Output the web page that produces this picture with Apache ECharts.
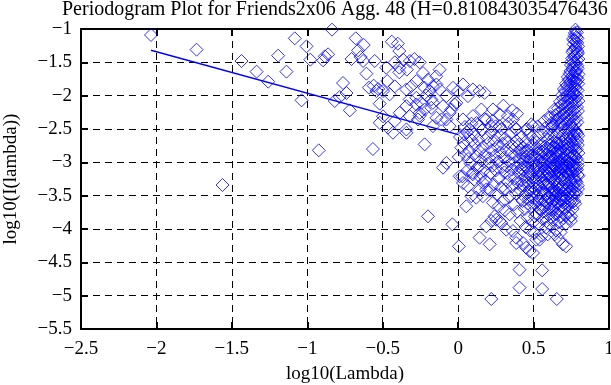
<!DOCTYPE html>
<html>
<head>
<meta charset="utf-8">
<script src="https://cdn.jsdelivr.net/npm/echarts@6/dist/echarts.min.js"></script>
<style>
html,body{margin:0;padding:0;background:#fff;}
#c{width:611px;height:385px;}
</style>
</head>
<body>
<div id="c"></div>
<script>
// ---- data (log10 frequency, log10 periodogram) ----
const titleText = "Periodogram Plot for Friends2x06 Agg. 48 (H=0.810843035476436";
const xName = "log10(Lambda)";
const yName = "log10(I(lambda))";

const lowBand = [
  [-2.036,-1.09],[-1.734,-1.31],[-1.562,-3.34],[-1.436,-1.48],[-1.336,-1.64],[-1.259,-1.79],
  [-1.193,-1.40],[-1.138,-1.64],[-1.083,-1.14],[-1.038,-2.07],[-1.005,-1.26],[-0.980,-1.46],
  [-0.924,-2.82],[-0.895,-1.47],[-0.884,-1.41],[-0.862,-1.38],[-0.836,-1.01],[-0.818,-2.08],
  [-0.785,-2.02],[-0.763,-1.81],[-0.740,-1.96],[-0.718,-2.22],[-0.707,-1.45],[-0.679,-1.14],
  [-0.663,-1.32],[-0.646,-1.42],[-0.630,-1.48],[-0.626,-1.24],[-0.608,-1.67],[-0.591,-1.88],
  [-0.565,-2.80],[-0.560,-1.85],[-0.553,-1.48],[-0.542,-1.93],[-0.530,-1.90],[-0.520,-2.12],
  [-0.498,-1.93],[-0.498,-2.31],[-0.476,-1.58]
];

const midBand = [
  [-0.44,-1.19],[-0.40,-1.22],[-0.39,-1.33],[-0.365,-1.46],[-0.42,-1.50],[-0.39,-1.58],
  [-0.32,-1.48],[-0.29,-1.45],[-0.255,-1.50],[-0.39,-1.65],[-0.34,-1.61],[-0.123,-1.61],
  [-0.145,-1.71],[-0.233,-1.66],[-0.20,-1.76],[-0.454,-1.98],[-0.47,-1.78],[-0.42,-1.86],
  [-0.343,-1.907],[-0.31,-1.857],[-0.321,-2.057],[-0.277,-2.032],[-0.222,-1.882],[-0.189,-1.932],
  [-0.178,-2.057],[-0.144,-1.832],[-0.123,-1.907],[-0.078,-2.007],[-0.034,-1.882],[-0.001,-1.932],
  [0.032,-1.832],[0.065,-2.007],[0.098,-1.907],[0.142,-1.932],[0.175,-1.957],[-0.012,-2.107],
  [-0.045,-2.207],[-0.10,-2.157],[-0.178,-2.182],[-0.255,-2.257],[-0.321,-2.307],[-0.387,-2.257],
  [-0.42,-2.382],[-0.277,-1.782],[-0.167,-1.857],[-0.211,-1.997],[-0.244,-2.107],
  [-0.52,-2.407],[-0.465,-2.48],[-0.432,-2.556],[-0.343,-2.507],[-0.266,-2.357],[-0.167,-2.457],
  [-0.111,-2.357],[-0.056,-2.457],[0.032,-2.357],[0.098,-2.307],[0.154,-2.207],[0.231,-2.207],
  [0.275,-2.282],[0.33,-2.307],[0.187,-2.357],[0.363,-2.357],[0.275,-2.457],[0.22,-2.457],
  [0.142,-2.457],[0.076,-2.507],[0.043,-2.582],[0.385,-2.507],[0.451,-2.507],[0.496,-2.457],
  [-0.343,-2.157],[-0.277,-2.132],[-0.222,-2.207],[-0.167,-2.107],[-0.056,-2.257],[-0.023,-2.132],
  [-0.255,-2.30],[-0.144,-2.332],[-0.078,-2.357],[-0.343,-2.557],[-0.222,-2.73],
  [0.39,-2.27],[0.30,-2.15],[0.36,-2.22]
];

const cluster = [
  [0.012,-2.62],[0.021,-2.78],[0.035,-2.71],[0.048,-2.88],[0.057,-2.55],[0.066,-2.95],[0.074,-2.83],
  [0.083,-3.02],[0.091,-2.67],[0.097,-3.18],[0.004,-2.92],[0.028,-3.21],[0.062,-3.12],[0.045,-2.47],[0.088,-2.42],
  [0.104,-2.58],[0.111,-2.74],[0.118,-2.91],[0.126,-3.08],[0.133,-2.66],[0.139,-2.83],[0.146,-3.22],
  [0.152,-2.97],[0.158,-2.52],[0.165,-2.77],[0.171,-3.12],[0.178,-2.89],[0.184,-3.28],[0.19,-2.63],
  [0.196,-3.02],[0.107,-3.26],[0.143,-3.41],[0.175,-2.35],[0.121,-2.41],
  [0.203,-2.71],[0.208,-2.94],[0.214,-3.16],[0.219,-2.55],[0.224,-2.82],[0.229,-3.05],[0.235,-3.33],
  [0.24,-2.67],[0.245,-2.90],[0.25,-3.12],[0.255,-3.48],[0.26,-2.76],[0.265,-2.99],[0.27,-3.24],
  [0.275,-2.60],[0.28,-2.85],[0.285,-3.38],[0.29,-3.07],[0.295,-2.72],[0.299,-3.58],[0.212,-3.42],
  [0.248,-2.46],[0.268,-3.66],[0.227,-2.38],[0.287,-2.50],
  [0.303,-2.93],[0.307,-3.15],[0.311,-2.64],[0.315,-3.40],[0.319,-2.81],[0.323,-3.06],[0.327,-3.29],
  [0.331,-2.70],[0.335,-2.98],[0.339,-3.52],[0.343,-3.20],[0.347,-2.87],[0.351,-2.56],[0.355,-3.11],
  [0.359,-3.36],[0.363,-2.76],[0.367,-3.02],[0.371,-3.63],[0.375,-3.24],[0.379,-2.91],[0.383,-3.47],
  [0.387,-2.68],[0.391,-3.08],[0.395,-3.31],[0.399,-2.84],[0.309,-3.72],[0.341,-3.78],[0.373,-2.47],
  [0.392,-3.74],[0.333,-2.42],
  [0.403,-3.16],[0.406,-2.73],[0.409,-2.95],[0.412,-3.42],[0.415,-3.03],[0.418,-2.62],[0.421,-3.27],
  [0.424,-2.86],[0.427,-3.58],[0.43,-3.12],[0.433,-2.78],[0.436,-3.35],[0.439,-2.99],[0.442,-3.70],
  [0.445,-3.21],[0.448,-2.69],[0.451,-3.47],[0.454,-2.91],[0.457,-3.08],[0.46,-3.83],[0.463,-2.82],
  [0.466,-3.31],[0.469,-3.55],[0.472,-2.58],[0.475,-3.14],[0.478,-2.96],[0.481,-3.39],[0.484,-3.66],
  [0.487,-2.75],[0.49,-3.23],[0.493,-3.02],[0.496,-3.90],[0.499,-2.88],[0.414,-3.88],[0.447,-3.97],
  [0.476,-4.02],[0.458,-2.50],[0.485,-2.43],
  [0.502,-3.44],[0.505,-2.66],[0.507,-3.11],[0.51,-3.62],[0.512,-2.93],[0.515,-3.27],[0.517,-2.79],
  [0.52,-3.78],[0.522,-3.05],[0.525,-3.50],[0.527,-2.87],[0.53,-3.18],[0.532,-2.60],[0.535,-3.36],
  [0.537,-3.93],[0.54,-2.99],[0.542,-3.71],[0.545,-3.22],[0.547,-2.72],[0.55,-3.56],[0.552,-3.09],
  [0.555,-2.84],[0.557,-3.42],[0.56,-3.85],[0.562,-3.14],[0.565,-2.54],[0.567,-3.31],[0.57,-2.96],
  [0.572,-3.67],[0.575,-3.03],[0.577,-2.76],[0.58,-3.48],[0.582,-3.98],[0.585,-3.20],[0.587,-2.89],
  [0.59,-3.60],[0.592,-2.66],[0.595,-3.35],[0.597,-3.08],[0.599,-3.79],[0.508,-4.06],[0.553,-4.10],
  [0.528,-2.46],[0.571,-2.38],
  [0.602,-2.58],[0.604,-3.17],[0.606,-3.52],[0.608,-2.82],[0.61,-3.94],[0.612,-3.01],[0.614,-3.38],
  [0.616,-2.69],[0.618,-3.71],[0.62,-3.24],[0.622,-2.93],[0.624,-3.58],[0.626,-2.47],[0.628,-3.10],
  [0.63,-3.86],[0.632,-2.77],[0.634,-3.44],[0.636,-3.29],[0.638,-2.62],[0.64,-3.66],[0.642,-3.05],
  [0.644,-2.86],[0.646,-3.50],[0.648,-4.02],[0.65,-3.16],[0.652,-2.71],[0.654,-3.77],[0.656,-2.98],
  [0.658,-3.34],[0.66,-2.55],[0.662,-3.62],[0.664,-3.12],[0.666,-2.90],[0.668,-3.90],[0.67,-3.41],
  [0.672,-2.66],[0.674,-3.23],[0.676,-3.55],[0.678,-2.80],[0.68,-3.02],[0.682,-3.73],[0.684,-2.43],
  [0.686,-3.37],[0.688,-3.09],[0.69,-2.94],[0.692,-3.60],[0.694,-2.59],[0.696,-3.19],[0.698,-3.84],
  [0.614,-2.32],[0.637,-2.21],[0.659,-2.36],[0.641,-4.08],[0.679,-4.05],[0.697,-2.29],
  [0.701,-3.47],[0.703,-2.72],[0.705,-3.06],[0.707,-3.68],[0.709,-2.51],[0.711,-3.30],[0.713,-2.88],
  [0.715,-3.92],[0.717,-3.14],[0.719,-2.63],[0.721,-3.54],[0.723,-2.97],[0.725,-3.39],[0.727,-2.79],
  [0.729,-3.76],[0.731,-3.22],[0.733,-2.56],[0.735,-3.01],[0.737,-3.61],[0.739,-2.86],[0.741,-3.44],
  [0.743,-3.10],[0.745,-2.68],[0.747,-3.88],[0.749,-3.27],[0.751,-2.93],[0.753,-3.52],[0.755,-2.47],
  [0.757,-3.16],[0.759,-3.70],[0.761,-2.77],[0.763,-3.35],[0.765,-3.04],[0.767,-2.61],[0.769,-3.58],
  [0.771,-2.90],[0.773,-3.25],[0.775,-2.52],[0.777,-3.45],[0.779,-2.82],[0.781,-3.12],[0.783,-2.66],
  [0.785,-3.30],[0.787,-2.95],[0.789,-2.57],[0.791,-3.19],[0.793,-2.74],[0.795,-3.00],[0.797,-2.86],
  [0.794,-3.40]
];

const core = [
  [0.412,-2.81],[0.419,-3.09],[0.425,-3.33],[0.431,-2.92],[0.437,-3.51],[0.443,-3.06],[0.449,-2.84],
  [0.455,-3.28],[0.461,-3.62],[0.467,-2.99],[0.473,-3.44],[0.479,-3.19],[0.485,-2.90],[0.491,-3.53],
  [0.497,-3.31],[0.503,-2.97],[0.506,-3.24],[0.509,-3.81],[0.513,-3.40],[0.516,-3.06],[0.519,-2.70],
  [0.523,-3.58],[0.526,-3.15],[0.529,-3.33],[0.533,-2.80],[0.536,-3.69],[0.539,-3.12],[0.543,-3.47],
  [0.546,-2.91],[0.549,-3.29],[0.553,-3.63],[0.556,-3.01],[0.559,-3.20],[0.563,-3.74],[0.566,-2.83],
  [0.569,-3.45],[0.573,-3.10],[0.576,-3.57],[0.579,-2.99],[0.583,-3.33],[0.586,-3.88],[0.589,-2.78],
  [0.593,-3.16],[0.596,-3.52],[0.598,-2.95],[0.601,-3.31],[0.603,-3.70],[0.605,-2.91],[0.607,-3.10],
  [0.609,-3.45],[0.611,-2.74],[0.613,-3.62],[0.615,-3.20],[0.617,-2.99],[0.619,-3.83],[0.621,-3.36],
  [0.623,-2.80],[0.625,-3.14],[0.627,-3.49],[0.629,-2.96],[0.631,-3.70],[0.633,-3.05],[0.635,-2.69],
  [0.637,-3.40],[0.639,-3.18],[0.641,-3.55],[0.643,-2.92],[0.645,-3.26],[0.647,-3.78],[0.649,-2.78],
  [0.651,-3.44],[0.653,-3.07],[0.655,-3.60],[0.657,-2.86],[0.659,-3.20],[0.661,-3.48],[0.663,-2.72],
  [0.665,-3.33],[0.667,-3.70],[0.669,-3.00],[0.671,-3.15],[0.673,-2.84],[0.675,-3.38],[0.677,-3.82],
  [0.679,-3.10],[0.681,-2.89],[0.683,-3.50],[0.685,-3.26],[0.687,-2.70],[0.689,-3.65],[0.691,-3.04],
  [0.693,-3.41],[0.695,-2.83],[0.697,-3.55],[0.699,-3.12],[0.702,-3.24],[0.704,-2.93],[0.706,-3.57],
  [0.708,-3.02],[0.710,-2.66],[0.712,-3.41],[0.714,-3.79],[0.716,-2.81],[0.718,-3.33],[0.720,-3.05],
  [0.722,-2.72],[0.724,-3.66],[0.726,-3.18],[0.728,-2.90],[0.730,-3.48],[0.732,-3.09],[0.734,-2.77],
  [0.736,-3.37],[0.738,-3.84],[0.740,-3.00],[0.742,-2.62],[0.744,-3.29],[0.746,-3.58],[0.748,-2.84],
  [0.750,-3.14],[0.752,-3.40],[0.754,-2.71],[0.756,-3.60],[0.758,-3.05],[0.760,-2.90],[0.762,-3.47],
  [0.764,-3.20],[0.766,-2.58],[0.768,-3.10],[0.770,-3.38],[0.772,-2.75],[0.774,-3.02],[0.776,-3.62],
  [0.778,-2.92],[0.780,-3.28],[0.782,-2.54],[0.784,-3.47],[0.786,-2.81],[0.788,-3.11],[0.790,-2.68],
  [0.792,-3.05],[0.796,-2.60],[0.798,-3.20]
];

const spike = [
  [0.778,-1.01],[0.787,-1.05],[0.772,-1.10],[0.791,-1.14],[0.781,-1.19],[0.766,-1.23],[0.795,-1.26],
  [0.776,-1.30],[0.758,-1.35],[0.788,-1.38],[0.769,-1.42],[0.797,-1.45],[0.752,-1.49],[0.781,-1.52],
  [0.764,-1.56],[0.792,-1.59],[0.744,-1.63],[0.775,-1.66],[0.757,-1.70],[0.786,-1.73],[0.733,-1.76],
  [0.767,-1.79],[0.796,-1.82],[0.721,-1.85],[0.750,-1.88],[0.779,-1.90],[0.708,-1.93],[0.739,-1.96],
  [0.763,-1.98],[0.789,-2.01],[0.695,-2.04],[0.727,-2.06],[0.754,-2.09],[0.781,-2.11],[0.683,-2.14],
  [0.712,-2.16],[0.742,-2.19],[0.768,-2.21],[0.794,-2.23],[0.668,-2.26],[0.699,-2.28],[0.730,-2.30],
  [0.757,-2.32],[0.784,-2.34],[0.650,-2.37],[0.685,-2.39],[0.716,-2.41],[0.748,-2.43],[0.774,-2.44],
  [0.620,-2.41],[0.597,-2.33],[0.783,-1.62],[0.771,-1.97],[0.747,-1.79],[0.798,-1.68],[0.762,-1.15],
  [0.790,-1.33],
  [0.774,-1.06],[0.784,-1.12],[0.769,-1.17],[0.789,-1.21],[0.779,-1.27],[0.762,-1.32],[0.794,-1.36],
  [0.773,-1.40],[0.755,-1.44],[0.786,-1.47],[0.767,-1.50],[0.748,-1.54],[0.790,-1.55],[0.759,-1.60],
  [0.778,-1.64],[0.739,-1.67],[0.768,-1.71],[0.793,-1.76],[0.727,-1.72],[0.756,-1.75],[0.782,-1.80],
  [0.715,-1.82],[0.742,-1.84],[0.771,-1.86],[0.792,-1.92],[0.701,-1.90],[0.731,-1.92],[0.758,-1.95],
  [0.781,-1.99],[0.690,-1.99],[0.718,-2.01],[0.746,-2.03],[0.772,-2.06],[0.797,-2.08],[0.676,-2.09],
  [0.704,-2.11],[0.734,-2.13],[0.761,-2.15],[0.788,-2.17],[0.662,-2.19],[0.692,-2.21],[0.720,-2.24],
  [0.750,-2.25],[0.776,-2.27],[0.645,-2.29],[0.676,-2.32],[0.706,-2.34],[0.738,-2.36],[0.766,-2.38],
  [0.790,-2.40],[0.631,-2.44],[0.663,-2.46],[0.694,-2.48],[0.727,-2.50],[0.760,-2.49],[0.610,-2.50],
  [0.580,-2.48]
];

const outliers = [
  [-0.20,-3.81],[-0.038,-3.93],[0.005,-4.26],[0.054,-3.66],[0.12,-3.53],[0.142,-4.13],[0.209,-4.23],
  [0.187,-3.96],[0.22,-3.88],[0.253,-3.86],[0.286,-3.91],[0.407,-4.61],[0.407,-4.88],[0.22,-5.05],
  [0.557,-4.62],[0.557,-4.90],[0.654,-5.05],[0.793,-3.35],[0.716,-4.26],[0.749,-3.81],[0.672,-4.16],
  [0.594,-4.08],[0.54,-4.16],[0.496,-4.36],[0.451,-4.28],[0.385,-4.13],[0.363,-4.03],[0.319,-4.01],
  [0.275,-3.88],[0.242,-3.81],[0.474,-4.33],[0.385,-4.21],[0.694,-4.23],[0.43,-4.21],[0.518,-4.16],
  [-0.10,-3.08],[-0.078,-3.01],[0.032,-3.31],[0.065,-3.36],[0.01,-3.21],[0.098,-3.156],[0.142,-3.057],
  [0.164,-3.306],[0.187,-3.406],[0.087,-3.507],[0.164,-3.507],[0.231,-3.606]
];

// fitted regression line (slope = 1 - 2H)
const fitX = [-2.036, 0.0];
const fitY = [-1.318, -2.584];

const xMin = -2.5, xMax = 1, xStep = 0.5;
const yMin = -5.5, yMax = -1, yStep = 0.5;

// ---- chart ----
const FONT = "Liberation Serif";
const fmt = v => String(v).replace('-', '\u2212');
const allPts = lowBand.concat(midBand, cluster, core, spike, outliers);
const fitLine = fitX.map((x, i) => [x, fitY[i]]);

const chart = echarts.init(document.getElementById('c'), null, {renderer: 'canvas'});
const axisLineStyle = {show: true, onZero: false, lineStyle: {color: '#000', width: 2}};
const tickStyle = {show: true, inside: true, length: 7, lineStyle: {color: '#000', width: 2}};
const dashed = {show: true, lineStyle: {color: '#000', width: 1, type: [7, 5]}};

chart.setOption({
  animation: false,
  backgroundColor: '#fff',
  title: {
    text: titleText, left: 62, top: 0, padding: 0,
    textStyle: {fontFamily: FONT, fontSize: 20, fontWeight: 'normal', color: '#000'}
  },
  grid: {left: 81, right: 2, top: 29, bottom: 56, containLabel: false, outerBoundsMode: 'none'},
  xAxis: [{
    type: 'value', min: xMin, max: xMax, interval: xStep, position: 'bottom',
    name: xName, nameLocation: 'middle', nameGap: 36,
    nameTextStyle: {fontFamily: FONT, fontSize: 19, color: '#000'},
    axisLine: axisLineStyle, axisTick: tickStyle, splitLine: dashed,
    axisLabel: {formatter: fmt, fontFamily: FONT, fontSize: 19, color: '#000', margin: 11}
  }, {
    type: 'value', min: xMin, max: xMax, interval: xStep, position: 'top',
    axisLine: axisLineStyle, axisTick: tickStyle, splitLine: {show: false},
    axisLabel: {show: false}
  }],
  yAxis: [{
    type: 'value', min: yMin, max: yMax, interval: yStep, position: 'left',
    name: yName, nameLocation: 'middle', nameGap: 60, nameRotate: 90,
    nameTextStyle: {fontFamily: FONT, fontSize: 19, color: '#000'},
    axisLine: axisLineStyle, axisTick: tickStyle, splitLine: dashed,
    axisLabel: {formatter: fmt, fontFamily: FONT, fontSize: 19, color: '#000', margin: 9}
  }, {
    type: 'value', min: yMin, max: yMax, interval: yStep, position: 'right',
    axisLine: axisLineStyle, axisTick: tickStyle, splitLine: {show: false},
    axisLabel: {show: false}
  }],
  series: [{
    type: 'scatter', data: allPts, symbol: 'diamond', symbolSize: 13,
    itemStyle: {color: 'rgba(0,0,0,0)', borderColor: '#0000ff', borderWidth: 1},
    clip: false, silent: true
  }, {
    type: 'line', data: fitLine, symbol: 'none',
    lineStyle: {color: '#0000ff', width: 1.5}, silent: true
  }]
});
</script>
</body>
</html>
